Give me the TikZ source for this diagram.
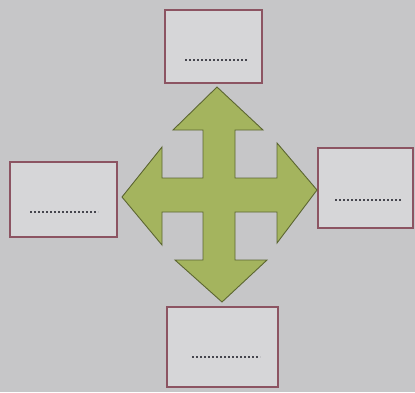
\documentclass[tikz,border=0pt]{standalone}
\usetikzlibrary{calc}
\definecolor{bg}{RGB}{198,198,200}
\definecolor{boxfill}{RGB}{214,214,216}
\definecolor{boxline}{RGB}{140,84,98}
\definecolor{arrfill}{RGB}{164,180,94}
\definecolor{arrline}{RGB}{92,102,50}
\definecolor{dotcol}{RGB}{70,70,78}
\begin{document}
\begin{tikzpicture}[x=1pt,y=-1pt,
  card/.style={draw=boxline, line width=1.8pt, fill=boxfill, inner sep=0pt},
  dots/.style={dotcol, line width=2pt, dash pattern=on 1.6pt off 2.4pt}]
\fill[bg] (0,0) rectangle (415,392);
\useasboundingbox (0,0) rectangle (415,392);
% boxes
\node[card, minimum width=97pt, minimum height=73pt] (top) at (213.5,46.5) {};
\node[card, minimum width=107pt, minimum height=75pt] (left) at (63.5,199.5) {};
\node[card, minimum width=95pt, minimum height=80pt] (right) at (365.5,188) {};
\node[card, minimum width=111pt, minimum height=80pt] (bottom) at (222.5,347) {};
% placeholder dotted lines
\draw[dots] ($(top.center)+(-28.5,13.5)$) -- ($(top.center)+(34.5,13.5)$);
\draw[dots] ($(left.center)+(-33.5,12.5)$) -- ($(left.center)+(34.5,12.5)$);
\draw[dots] ($(right.center)+(-30.5,12)$) -- ($(right.center)+(36.5,12)$);
\draw[dots] ($(bottom.center)+(-30.5,10)$) -- ($(bottom.center)+(37.5,10)$);
% four-way arrow
\draw[fill=arrfill, draw=arrline, line width=0.9pt, line join=miter]
  (217,87) -- (263,130) -- (235,130) -- (235,178) -- (277,178) -- (277,143)
  -- (317,190) -- (277,243) -- (277,212) -- (235,212) -- (235,260) -- (267,260)
  -- (222,302) -- (175,260) -- (203,260) -- (203,212) -- (162,212) -- (162,245)
  -- (122,197) -- (162,147) -- (162,178) -- (203,178) -- (203,130) -- (173,130) -- cycle;
\end{tikzpicture}
\end{document}
